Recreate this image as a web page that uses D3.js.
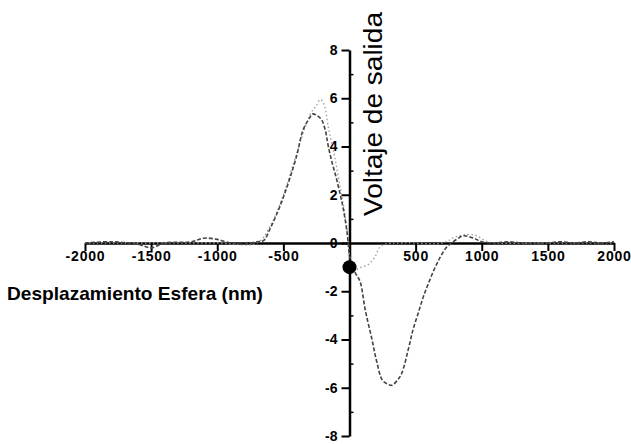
<!DOCTYPE html>
<html>
<head>
<meta charset="utf-8">
<script src="https://cdn.jsdelivr.net/npm/d3@7"></script>
<style>
  body { margin: 0; background: #fff; }
  svg { display: block; font-family: "Liberation Sans", Arial, sans-serif; }
</style>
</head>
<body>
<svg id="chart" width="631" height="444"></svg>
<script>
// measured signal (dark dashed trace)
const measX = [-2000, -1800, -1600, -1500, -1400, -1200, -1100, -1000, -900, -800, -700, -650, -600, -550, -500, -450, -400, -350, -300, -280, -250, -210, -180, -160, -130, -100, -70, -50, -20, 0, 20, 50, 80, 120, 170, 205, 250, 290, 320, 360, 395, 445, 480, 520, 560, 595, 640, 685, 730, 760, 810, 860, 910, 960, 1000, 1100, 1200, 1300, 1400, 1500, 1600, 1700, 1800, 1900, 2000];
const measY = [0, 0.05, -0.05, -0.2, 0, 0.05, 0.2, 0.15, 0, -0.05, 0.05, 0.1, 0.6, 1.2, 1.9, 2.7, 3.6, 4.7, 5.2, 5.35, 5.3, 5.1, 4.6, 4.0, 3.3, 2.7, 2.0, 1.5, 0.5, -0.5, -1.0, -1.3, -1.6, -2.8, -4.0, -4.9, -5.7, -5.85, -5.9, -5.7, -5.4, -4.4, -3.6, -2.9, -2.2, -1.7, -1.1, -0.6, -0.2, -0.05, 0.15, 0.3, 0.25, 0.15, 0.05, 0, 0.05, 0, -0.05, 0, 0.05, 0, 0.05, 0, 0.05];

// second, lighter dotted trace
const lightX = [-2000, -1000, -700, -600, -500, -400, -300, -250, -220, -190, -160, -120, -80, -40, -10, 10, 40, 90, 140, 190, 243, 400, 700, 800, 880, 960, 1050, 1500, 2000];
const lightY = [0, 0, 0, 0.7, 2.0, 3.7, 5.3, 5.7, 5.95, 5.7, 4.8, 3.8, 2.6, 1.4, 0.2, -0.8, -1.1, -1.0, -0.9, -0.6, -0.1, 0, 0, 0.25, 0.35, 0.3, 0.05, 0, 0];

// marker at the origin
const markerPt = [0, -1.0];

const xTicks = [-2000, -1500, -1000, -500, 500, 1000, 1500, 2000];
const yTicks = [-8, -6, -4, -2, 0, 2, 4, 6, 8];
const yMinor = [-7, -5, -3, -1, 1, 3, 5, 7];

const svg = d3.select('#chart');

const x = d3.scaleLinear().domain([-2000, 2000]).range([85, 614]);
const y = d3.scaleLinear().domain([-8, 8]).range([436, 50]);

const fmt = d => String(d); // plain hyphen, like the scan

// x axis through y = 0
const gx = svg.append('g')
  .attr('transform', `translate(0,${y(0)})`)
  .call(d3.axisBottom(x).tickValues(xTicks).tickSize(8).tickSizeOuter(0).tickFormat(fmt));
gx.select('.domain').attr('stroke', '#000').attr('stroke-width', 2.5);
gx.selectAll('.tick line').attr('stroke', '#000').attr('stroke-width', 2);
gx.selectAll('.tick text')
  .attr('font-size', 14).attr('font-weight', 'bold').attr('fill', '#000')
  .attr('letter-spacing', 0.8).attr('dy', '0.5em');

// y axis through x = 0
const gy = svg.append('g')
  .attr('transform', `translate(${x(0)},0)`)
  .call(d3.axisLeft(y).tickValues(yTicks).tickSize(8).tickSizeOuter(0).tickFormat(fmt));
gy.select('.domain').attr('stroke', '#000').attr('stroke-width', 2.5);
gy.selectAll('.tick line').attr('stroke', '#000').attr('stroke-width', 2);
gy.selectAll('.tick text')
  .attr('font-size', 14).attr('font-weight', 'bold').attr('fill', '#000').attr('x', -12);

const gm = svg.append('g')
  .attr('transform', `translate(${x(0)},0)`)
  .call(d3.axisRight(y).tickValues(yMinor).tickSize(4).tickFormat(''));
gm.select('.domain').remove();
gm.selectAll('.tick line').attr('stroke', '#000').attr('stroke-width', 1.5);

// curves
const line = d3.line().x(d => x(d[0])).y(d => y(d[1])).curve(d3.curveCatmullRom);

svg.append('path')
  .datum(lightX.map((v, i) => [v, lightY[i]]))
  .attr('d', line)
  .attr('fill', 'none')
  .attr('stroke', '#999')
  .attr('stroke-width', 1.3)
  .attr('stroke-dasharray', '1.5,2.5');

svg.append('path')
  .datum(measX.map((v, i) => [v, measY[i]]))
  .attr('d', line)
  .attr('fill', 'none')
  .attr('stroke', '#444')
  .attr('stroke-width', 1.6)
  .attr('stroke-dasharray', '4,2');

svg.append('circle')
  .attr('cx', x(markerPt[0]))
  .attr('cy', y(markerPt[1]))
  .attr('r', 7)
  .attr('fill', '#000');

// axis titles
svg.append('text')
  .attr('x', 7).attr('y', 300)
  .attr('font-size', 19).attr('font-weight', 600)
  .attr('textLength', 256).attr('lengthAdjust', 'spacingAndGlyphs')
  .text('Desplazamiento Esfera (nm)');

svg.append('text')
  .attr('transform', 'translate(382,216) rotate(-90)')
  .attr('font-size', 25)
  .attr('textLength', 204).attr('lengthAdjust', 'spacingAndGlyphs')
  .text('Voltaje de salida');
</script>
</body>
</html>
